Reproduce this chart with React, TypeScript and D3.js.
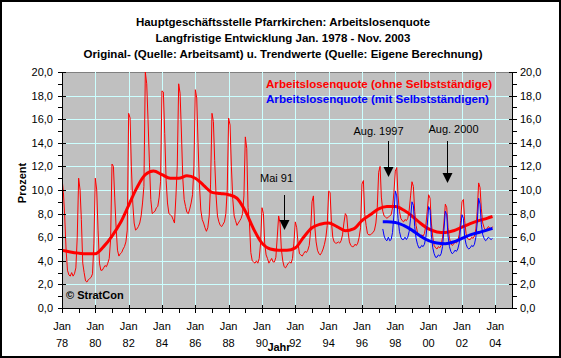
import React from 'react';
import * as d3 from 'd3';

const titleLines = [
  'Hauptgeschäftsstelle Pfarrkirchen: Arbeitslosenquote',
  'Langfristige Entwicklung Jan. 1978 - Nov. 2003',
  'Original- (Quelle: Arbeitsamt) u. Trendwerte (Quelle: Eigene Berechnung)',
];

// Monthly values, Jan 1978 - Nov 2003 (ohne Selbstständige)
const ohneStart = [1978, 0];
const ohneRaw = [
  11.0, 9.8, 7.8, 4.9, 3.2, 2.8, 2.7, 3.0, 2.7, 2.9, 3.4, 6.0,
  11.0, 10.0, 7.5, 3.8, 3.0, 2.3, 2.2, 2.4, 2.5, 2.6, 2.9, 5.5,
  11.0, 10.0, 6.6, 3.8, 3.2, 3.2, 3.4, 3.6, 3.5, 3.8, 4.2, 5.8,
  12.2, 12.0, 9.4, 6.8, 4.9, 4.4, 4.6, 4.7, 5.0, 5.2, 5.6, 6.6,
  16.5, 16.1, 12.0, 8.9, 7.2, 6.6, 6.7, 6.9, 7.2, 7.8, 8.9, 10.3,
  20.0, 19.0, 16.0, 12.3, 9.2, 8.0, 8.1, 8.2, 8.5, 8.6, 9.4, 10.7,
  18.4, 18.3, 14.8, 10.8, 8.9, 8.0, 7.9, 7.8, 7.5, 7.2, 9.4, 12.0,
  19.0, 18.2, 15.0, 11.0, 9.2, 8.6, 8.1, 8.0, 8.4, 8.9, 9.6, 12.0,
  18.5, 17.8, 14.0, 10.5, 8.3, 7.5, 7.2, 6.8, 6.5, 6.8, 7.8, 10.5,
  16.5, 15.8, 12.5, 9.5, 7.8, 7.3, 7.0, 6.9, 7.1, 7.3, 8.0, 10.0,
  16.1, 15.5, 12.0, 9.2, 7.8, 7.4, 7.0, 7.2, 7.4, 7.6, 8.0, 9.5,
  14.5, 13.5, 8.5, 7.2, 4.7, 4.0, 3.9, 3.8, 4.0, 3.8, 4.2, 5.5,
  8.5, 8.0, 5.5, 4.5, 4.2, 3.8, 4.0, 4.2, 3.9, 3.9, 4.3, 6.0,
  7.8, 7.2, 5.0, 4.0, 3.5, 3.4, 3.6, 3.8, 3.9, 3.8, 4.2, 5.5,
  7.3, 6.8, 5.5, 4.6, 4.5, 4.4, 4.6, 4.8, 4.7, 4.9, 5.3, 6.5,
  9.0, 9.5, 7.0, 5.6, 4.9, 4.6, 4.5, 4.7, 5.0, 5.4, 6.0, 7.0,
  9.9, 9.8, 7.4, 6.0, 5.6, 5.5, 5.5, 5.6, 5.5, 5.7, 6.2, 7.2,
  8.0, 7.8, 6.5, 5.6, 5.3, 5.2, 5.2, 5.4, 5.3, 5.5, 6.0, 6.8,
  10.5, 10.8, 8.0, 7.0, 6.3, 6.2, 6.2, 6.3, 6.4, 6.6, 7.2, 8.5,
  11.5, 12.0, 9.4, 8.2, 7.8, 7.7, 7.6, 7.7, 7.8, 7.9, 8.5, 9.8,
  11.6, 11.9, 9.5, 8.2, 7.6, 7.4, 7.3, 7.5, 7.4, 7.6, 8.3, 9.5,
  10.7, 10.3, 8.2, 7.0, 6.4, 6.1, 6.0, 6.2, 6.1, 6.3, 7.0, 8.2,
  9.6, 9.3, 7.2, 6.0, 5.3, 5.1, 5.0, 5.2, 5.1, 5.3, 6.0, 7.2,
  8.8, 8.5, 6.8, 5.9, 5.5, 5.3, 5.4, 5.6, 5.5, 5.7, 6.2, 7.4,
  9.0, 9.2, 7.4, 6.3, 5.9, 5.8, 5.8, 6.0, 5.9, 6.1, 6.7, 8.2,
  10.6, 10.2, 8.4, 7.2, 6.8, 6.6, 6.7, 6.9, 6.8, 6.7, 6.9,
];

// Monthly values, Apr 1997 - Nov 2003 (mit Selbstständigen)
const mitStart = [1997, 3];
const mitRaw = [
  6.7, 6.1, 5.8, 5.7, 6.0, 5.7, 5.8, 6.4, 7.9,
  9.9, 9.5, 7.6, 6.5, 6.0, 5.8, 5.8, 6.0, 5.8, 6.0, 6.5, 7.6,
  9.0, 8.7, 6.9, 5.9, 5.4, 5.1, 5.1, 5.3, 5.2, 5.4, 6.0, 7.0,
  8.6, 8.3, 6.2, 5.1, 4.6, 4.3, 4.3, 4.5, 4.4, 4.6, 5.2, 6.6,
  8.2, 7.9, 6.1, 5.2, 4.8, 4.6, 4.7, 4.9, 4.8, 5.0, 5.5, 6.8,
  7.9, 7.6, 6.0, 5.4, 5.1, 5.0, 5.1, 5.3, 5.2, 5.4, 6.0, 7.2,
  9.3, 8.8, 7.1, 6.2, 5.9, 5.7, 5.8, 6.0, 5.9, 5.8, 5.9,
];

// Trend values (month offset from Jan 1978)
const trendOhneMonths = [0, 6, 12, 18, 24, 30, 36, 42, 48, 54, 60, 66, 72, 78, 84, 90, 96, 102, 108, 114, 120, 126, 132, 138, 144, 150, 156, 162, 168, 174, 180, 186, 192, 198, 204, 210, 216, 222, 228, 234, 240, 246, 252, 258, 264, 270, 276, 282, 288, 294, 300, 306, 310];
const trendOhneValues = [4.9, 4.75, 4.65, 4.6, 4.6, 5.2, 6.1, 7.2, 8.7, 10.2, 11.3, 11.6, 11.3, 11.0, 11.0, 11.2, 11.0, 10.4, 9.8, 9.7, 9.6, 9.3, 8.2, 6.7, 5.5, 5.0, 4.9, 4.9, 5.1, 6.0, 6.8, 7.1, 7.2, 6.9, 6.55, 6.7, 7.4, 7.9, 8.4, 8.6, 8.6, 8.3, 7.8, 7.2, 6.7, 6.45, 6.4, 6.55, 6.85, 7.15, 7.4, 7.6, 7.75];
const trendMitMonths = [231, 234, 240, 246, 252, 258, 264, 270, 276, 282, 288, 294, 300, 306, 310];
const trendMitValues = [7.3, 7.3, 7.25, 7.0, 6.6, 6.1, 5.7, 5.5, 5.45, 5.6, 5.9, 6.2, 6.4, 6.6, 6.75];

const yTicks = [0, 2, 4, 6, 8, 10, 12, 14, 16, 18, 20];
const yMinor = [1, 3, 5, 7, 9, 11, 13, 15, 17, 19];
const xTickYears = [1978, 1980, 1982, 1984, 1986, 1988, 1990, 1992, 1994, 1996, 1998, 2000, 2002, 2004];
const xMinorYears = [1979, 1981, 1983, 1985, 1987, 1989, 1991, 1993, 1995, 1997, 1999, 2001, 2003];

const annotations = [
  { label: 'Mai 91', year: 1991, month: 4, textDx: -8, textY: 182, lineTop: 195, tip: 230 },
  { label: 'Aug. 1997', year: 1997, month: 7, textDx: -10, textY: 135, lineTop: 141, tip: 177 },
  { label: 'Aug. 2000', year: 2001, month: 1, textDx: 6, textY: 133, lineTop: 141, tip: 183 },
];

const FONT = 'Arial, "Liberation Sans", Helvetica, sans-serif';

export default function App() {
  const L = 62, R = 512, T = 72, B = 308;
  const x = d3.scaleTime().domain([new Date(1978, 0, 1), new Date(2005, 0, 1)]).range([L, R]);
  const y = d3.scaleLinear().domain([0, 20]).range([B, T]);
  const md = (yr: number, m: number) => new Date(yr, m, 1);
  const px5 = (v: number) => Math.round(v) + 0.5;

  const rawLine = (start: number[]) =>
    d3.line<number>()
      .x((_, i) => x(md(start[0], start[1] + i)))
      .y((d) => y(d));
  const trendLine = (months: number[]) =>
    d3.line<number>()
      .x((_, i) => x(md(1978, months[i])))
      .y((d) => y(d))
      .curve(d3.curveMonotoneX);

  const fmt = (v: number) => v.toFixed(1).replace('.', ',');

  return (
    <svg width={561} height={358} style={{ position: 'absolute', left: 0, top: 0, background: '#fff' }} fontFamily={FONT}>
      <defs>
        <clipPath id="plot">
          <rect x={L} y={T} width={R - L} height={B - T} />
        </clipPath>
      </defs>
      <rect x={1} y={1} width={559} height={356} fill="#fff" stroke="#000" strokeWidth={2} />
      {titleLines.map((t, i) => (
        <text key={i} x={283} y={26 + i * 16} textAnchor="middle" fontSize={11.5} fontWeight="bold" fill="#000">{t}</text>
      ))}
      <rect x={L + 0.5} y={T + 0.5} width={R - L} height={B - T} fill="#C0C0C0" stroke="#808080" strokeWidth={1} shapeRendering="crispEdges" />
      <g shapeRendering="crispEdges">
        {yTicks.slice(1, -1).map((v) => (
          <line key={'gy' + v} x1={L} x2={R} y1={px5(y(v))} y2={px5(y(v))} stroke="#CCFFFF" strokeWidth={1} />
        ))}
        {xTickYears.slice(1).map((yr) => (
          <line key={'gx' + yr} x1={px5(x(md(yr, 0)))} x2={px5(x(md(yr, 0)))} y1={T} y2={B} stroke="#CCFFFF" strokeWidth={1} />
        ))}
      </g>
      <g clipPath="url(#plot)">
        <path d={rawLine(ohneStart)(ohneRaw) || ''} fill="none" stroke="#FF0000" strokeWidth={1} />
        <path d={trendLine(trendOhneMonths)(trendOhneValues) || ''} fill="none" stroke="#FF0000" strokeWidth={3} />
        <path d={rawLine(mitStart)(mitRaw) || ''} fill="none" stroke="#0000FF" strokeWidth={1} />
        <path d={trendLine(trendMitMonths)(trendMitValues) || ''} fill="none" stroke="#0000FF" strokeWidth={3} />
      </g>
      {/* axes */}
      <g shapeRendering="crispEdges" stroke="#000">
        <line x1={L + 0.5} x2={L + 0.5} y1={T} y2={B + 1} />
        <line x1={R + 0.5} x2={R + 0.5} y1={T} y2={B + 1} />
        <line x1={L} x2={R + 1} y1={B + 0.5} y2={B + 0.5} />
        {yTicks.map((v) => (
          <g key={'yt' + v}>
            <line x1={L - 4} x2={L + 4} y1={px5(y(v))} y2={px5(y(v))} />
            <line x1={R - 3} x2={R + 5} y1={px5(y(v))} y2={px5(y(v))} />
          </g>
        ))}
        {yMinor.map((v) => (
          <g key={'ym' + v}>
            <line x1={L - 4} x2={L} y1={px5(y(v))} y2={px5(y(v))} />
            <line x1={R + 1} x2={R + 5} y1={px5(y(v))} y2={px5(y(v))} />
          </g>
        ))}
        {xTickYears.map((yr) => {
          const px = px5(x(md(yr, 0)));
          return <line key={'xt' + yr} x1={px} x2={px} y1={B - 3} y2={B + 5} />;
        })}
        {xMinorYears.map((yr) => {
          const px = px5(x(md(yr, 0)));
          return <line key={'xm' + yr} x1={px} x2={px} y1={B} y2={B + 5} />;
        })}
      </g>
      {yTicks.map((v) => (
        <g key={'yl' + v}>
          <text x={53} y={y(v) + 4} textAnchor="end" fontSize={11} fill="#000">{fmt(v)}</text>
          <text x={520} y={y(v) + 4} textAnchor="start" fontSize={11} fill="#000">{fmt(v)}</text>
        </g>
      ))}
      {xTickYears.map((yr) => {
        const px = x(md(yr, 0));
        return (
          <g key={'xl' + yr}>
            <text x={px} y={330} textAnchor="middle" fontSize={11} fill="#000">Jan</text>
            <text x={px} y={347} textAnchor="middle" fontSize={11} fill="#000">{String(yr).slice(2)}</text>
          </g>
        );
      })}
      <text x={279} y={351} textAnchor="middle" fontSize={11} fontWeight="bold" fill="#000">Jahr</text>
      <text transform="translate(26,183) rotate(-90)" textAnchor="middle" fontSize={11} fontWeight="bold" fill="#000">Prozent</text>
      <text x={66} y={299} fontSize={11} fontWeight="bold" fill="#000">© StratCon</text>
      <text x={266} y={88} fontSize={11.6} fontWeight="bold" fill="#FF0000">Arbeitslosenquote (ohne Selbstständige)</text>
      <text x={266} y={103} fontSize={11.6} fontWeight="bold" fill="#0000FF">Arbeitslosenquote (mit Selbstständigen)</text>
      {annotations.map((a) => {
        const px = Math.round(x(md(a.year, a.month))) + 0.5;
        return (
          <g key={a.label}>
            <text x={px + a.textDx} y={a.textY} textAnchor="middle" fontSize={11} fill="#000">{a.label}</text>
            <line x1={px} x2={px} y1={a.lineTop} y2={a.tip - 9} stroke="#000" strokeWidth={1} shapeRendering="crispEdges" />
            <path d={`M${px - 5},${a.tip - 10} L${px + 5},${a.tip - 10} L${px},${a.tip} Z`} fill="#000" />
          </g>
        );
      })}
    </svg>
  );
}
